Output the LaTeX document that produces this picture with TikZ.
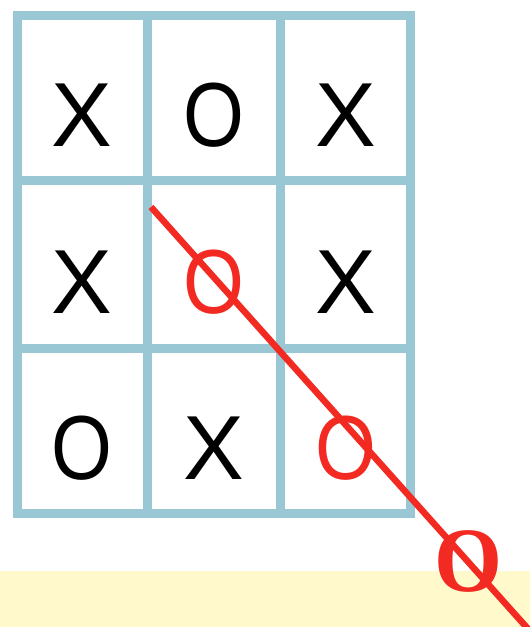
\documentclass[tikz,border=0pt]{standalone}
\usepackage{fontspec}
\setmainfont{Liberation Sans}
\newfontfamily\serifO{Liberation Serif}
\usetikzlibrary{positioning}
\definecolor{gridblue}{HTML}{99C7D3}
\definecolor{winred}{HTML}{F32A22}
\definecolor{floorbg}{HTML}{FFF9CC}
\tikzset{
  board/.style ={draw=gridblue, line width=9pt, line cap=rect},
  token/.style ={anchor=base, inner sep=0pt, font=\fontsize{91}{91}\selectfont},
  win/.style   ={token, text=winred},
  strike/.style={draw=winred, line width=6.5pt},
  floor/.style ={fill=floorbg, draw=none},
}
\newcommand{\oh}{\scalebox{0.86}[1]{O}}

\begin{document}
\begin{tikzpicture}[x=1pt, y=-1pt]
  \useasboundingbox (0,0) rectangle (530,627);
  \clip (0,0) rectangle (530,627);

  % floor band
  \path[floor] (0,571) rectangle (530,627);

  % board
  \foreach \gx in {17.5,147,280.5,410.5}
    \draw[board] (\gx,15.5) -- (\gx,513);
  \foreach \gy in {15.5,180.5,348.5,513}
    \draw[board] (17.5,\gy) -- (410.5,\gy);

  % marks
  \node[token] (c11) at (82,146)  {X};
  \node[token] (c12) at (213.5,146) {\oh};
  \node[token] (c13) at (345.5,146) {X};
  \node[token] (c21) at (82,313)  {X};
  \node[win]   (c22) at (213.5,313) {\oh};
  \node[token] (c23) at (345.5,313) {X};
  \node[token] (c31) at (82,479)  {\oh};
  \node[token] (c32) at (213.5,479) {X};
  \node[win]   (c33) at (346,479) {\oh};
  \node[win, font=\serifO\bfseries\fontsize{92}{92}\selectfont] (out) at (468,591) {\scalebox{0.95}[1]{O}};

  % winning line
  \coordinate (s) at (151,207);
  \coordinate (e) at (529,630);
  \draw[strike] (s) -- (e);
\end{tikzpicture}
\end{document}
